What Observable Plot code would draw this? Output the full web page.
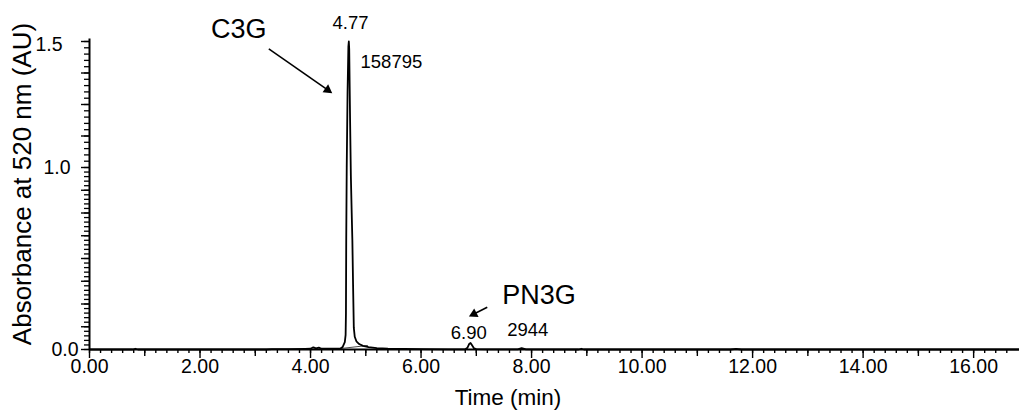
<!DOCTYPE html>
<html>
<head>
<meta charset="utf-8">
<script src="https://cdn.jsdelivr.net/npm/d3@7"></script>
<script src="https://cdn.jsdelivr.net/npm/@observablehq/plot@0.6"></script>
<style>
  html, body { margin: 0; padding: 0; background: #fff; }
  #chart svg { display: block; }
</style>
</head>
<body>
<div id="chart"></div>
<script>
// ---- Chromatogram trace (time in min, absorbance in AU) ----
const time = [0, 0.5, 0.78, 0.83, 0.88, 1.5, 2.5, 3.2, 3.3, 3.6, 3.9, 4.0, 4.05, 4.1, 4.15, 4.2, 4.25, 4.3, 4.4, 4.5,
  4.54, 4.58, 4.62, 4.635, 4.641, 4.646, 4.655, 4.67, 4.685, 4.693, 4.70, 4.715, 4.73, 4.745, 4.757, 4.77, 4.783,
  4.80, 4.83, 4.88, 4.95, 5.05, 5.2, 5.4, 5.7, 6.0, 6.5, 6.8, 6.84, 6.87, 6.896, 6.92, 6.96, 7.0, 7.2, 7.75, 7.82,
  7.9, 8.85, 8.9, 8.95, 10, 11.6, 11.7, 11.8, 13, 15, 16.83];
const absorbance = [0, 0, 0, 0.004, 0, 0, 0, 0, 0.002, 0.002, 0.003, 0.004, 0.012, 0.006, 0.01, 0.004, 0.005, 0.004, 0.004, 0.005,
  0.006, 0.013, 0.04, 0.08, 0.2, 0.6, 1.0, 1.3, 1.48, 1.5, 1.47, 1.2, 0.95, 0.75, 0.6, 0.35, 0.12,
  0.07, 0.045, 0.03, 0.02, 0.013, 0.008, 0.005, 0.003, 0.002, 0.001, 0.001, 0.01, 0.03, 0.036, 0.025, 0.006, 0.002, 0.001, 0.001, 0.008,
  0.001, 0, 0.004, 0, 0, 0, 0.003, 0, 0, 0, 0];

// integration baseline drawn under the main peak
const baselineTime = [4.54, 5.03];
const baselineAbs = [0.005, 0.022];

// ---- axis ticks ----
const xMax = 16.83;
const xMajorTicks = [0, 2, 4, 6, 8, 10, 12, 14, 16];
const xMidTicks = [1, 3, 5, 7, 9, 11, 13, 15];
const xMinorTicks = d3.range(0, 84).map(i => i / 5);
const yTickLabels = [0, 1.0, 1.5];
const yMajorTicks = d3.range(0, 13).map(i => i * 0.125);
const yMinorTicks = d3.range(0, 61).map(i => i * 0.025);

// ---- annotations ----
const compoundNames = ["C3G", "PN3G"];
const compoundX = [2.702, 8.136];
const compoundY = [1.550, 0.297];

const retentionLabels = ["4.77", "6.90"];
const retentionX = [4.724, 6.864];
const retentionY = [1.575, 0.091];

const areaLabels = ["158795", "2944"];
const areaX = [4.905, 7.560];
const areaY = [1.419, 0.107];

const arrowX1 = [3.245, 7.198];
const arrowY1 = [1.471, 0.232];
const arrowX2 = [4.393, 6.866];
const arrowY2 = [1.295, 0.181];

// ---- build tables ----
const trace = time.map((t, i) => ({time: t, abs: absorbance[i]}));
const baseline = baselineTime.map((t, i) => ({time: t, abs: baselineAbs[i]}));
const compounds = compoundNames.map((n, i) => ({name: n, x: compoundX[i], y: compoundY[i]}));
const retentions = retentionLabels.map((n, i) => ({name: n, x: retentionX[i], y: retentionY[i]}));
const areas = areaLabels.map((n, i) => ({name: n, x: areaX[i], y: areaY[i]}));

const W = 1019, H = 412, ML = 89, MR = 0, MT = 41, MB = 63;
const yDomain = [0, 1, 1.5];
const yRange = [349, 167, 41];
const xRange = [ML, W - MR];

// screen-space helpers to orient the filled arrowheads
const sx = d3.scaleLinear([0, xMax], xRange);
const sy = d3.scaleLinear(yDomain, yRange);
const headBack = 5.6;
const arrows = arrowX1.map((x1, i) => {
  const px1 = sx(x1), py1 = sy(arrowY1[i]);
  const px2 = sx(arrowX2[i]), py2 = sy(arrowY2[i]);
  const dx = px2 - px1, dy = py2 - py1, len = Math.hypot(dx, dy);
  const ux = dx / len, uy = dy / len;
  const cx = px2 - ux * headBack, cy = py2 - uy * headBack;
  return {
    x1, y1: arrowY1[i],
    hx: sx.invert(cx), hy: sy.invert(cy),
    angle: Math.atan2(dx, -dy) * 180 / Math.PI
  };
});

const font = "'Liberation Sans', Arial, Helvetica, sans-serif";
const blank = () => "";

const chart = Plot.plot({
  width: W,
  height: H,
  marginLeft: ML,
  marginRight: MR,
  marginTop: MT,
  marginBottom: MB,
  style: {fontFamily: font, fontSize: "19.5px", color: "#000", background: "#fff", overflow: "visible"},
  x: {domain: [0, xMax], range: xRange, label: null},
  y: {type: "linear", domain: yDomain, range: yRange, label: null},
  marks: [
    // x axis ticks
    Plot.axisX({ticks: xMinorTicks, tickSize: 4, tickFormat: blank, strokeWidth: 1.4, label: null}),
    Plot.axisX({ticks: xMidTicks, tickSize: 7, tickFormat: blank, strokeWidth: 1.4, label: null}),
    Plot.axisX({ticks: xMajorTicks, tickSize: 9, tickPadding: 1, tickFormat: d => d.toFixed(2), strokeWidth: 1.4, label: null}),
    // y axis ticks
    Plot.axisY({ticks: yMinorTicks, tickSize: 5, tickFormat: blank, strokeWidth: 1.3, label: null}),
    Plot.axisY({ticks: yMajorTicks, tickSize: 8, tickFormat: blank, strokeWidth: 1.4, label: null}),
    Plot.axisY({ticks: [yTickLabels[0]], tickSize: 0, tickPadding: 11, tickFormat: d => d.toFixed(1), label: null}),
    Plot.axisY({ticks: [yTickLabels[1]], tickSize: 0, tickPadding: 19, tickFormat: d => d.toFixed(1), label: null}),
    Plot.axisY({ticks: [yTickLabels[2]], tickSize: 0, tickPadding: 27, dy: 3, tickFormat: d => d.toFixed(1), label: null}),
    // axis lines
    Plot.ruleY([0], {stroke: "#000", strokeWidth: 2}),
    Plot.ruleX([0], {y1: 0, y2: 1.51, stroke: "#000", strokeWidth: 2}),
    // axis titles
    Plot.text(["Time (min)"], {frameAnchor: "bottom", dx: -46.5, dy: 48.5, textAnchor: "middle", lineAnchor: "middle", fontSize: 22.5, fill: "#000"}),
    Plot.text(["Absorbance at 520 nm (AU)"], {frameAnchor: "left", dx: -67, dy: -11.5, rotate: -90, textAnchor: "middle", lineAnchor: "middle", fontSize: 26, fill: "#000"}),
    // chromatogram
    Plot.line(baseline, {x: "time", y: "abs", stroke: "#333", strokeWidth: 0.9}),
    Plot.line(trace, {x: "time", y: "abs", stroke: "#000", strokeWidth: 1.8, strokeLinejoin: "round"}),
    // annotations
    Plot.text(compounds, {x: "x", y: "y", text: "name", fontSize: 27, fill: "#000", lineAnchor: "middle"}),
    Plot.text(retentions, {x: "x", y: "y", text: "name", fontSize: 18.5, fill: "#000", lineAnchor: "middle"}),
    Plot.text(areas, {x: "x", y: "y", text: "name", fontSize: 18.5, fill: "#000", textAnchor: "start", lineAnchor: "middle"}),
    Plot.link(arrows, {x1: "x1", y1: "y1", x2: "hx", y2: "hy", stroke: "#000", strokeWidth: 1.6}),
    Plot.dot(arrows, {x: "hx", y: "hy", symbol: "triangle", r: 3.6, fill: "#000", stroke: "none", rotate: "angle"})
  ]
});

document.getElementById("chart").appendChild(chart);
</script>
</body>
</html>
